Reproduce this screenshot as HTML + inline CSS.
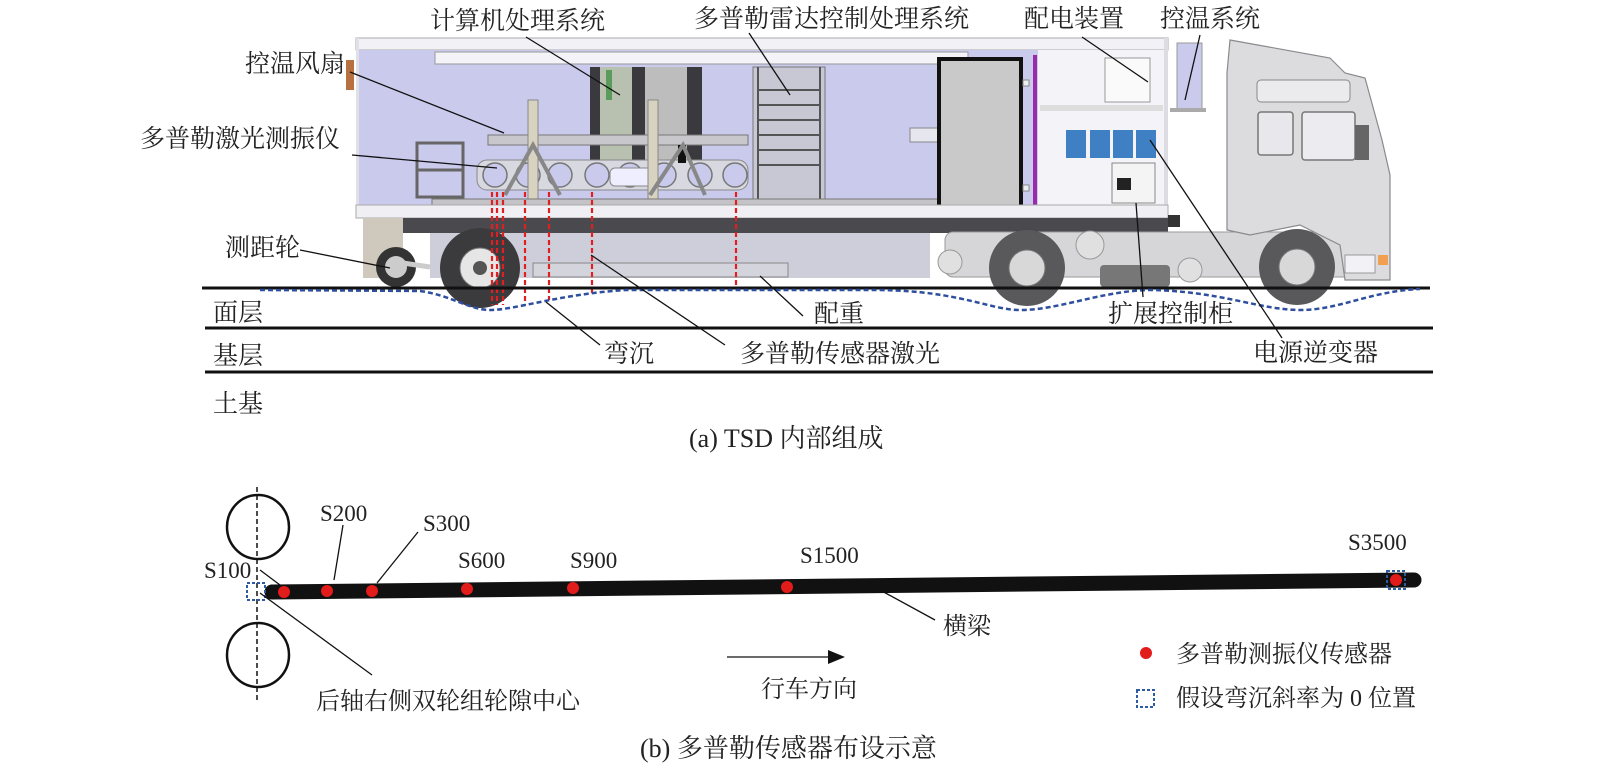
<!DOCTYPE html>
<html><head><meta charset="utf-8"><style>
html,body{margin:0;padding:0;background:#fff;}
svg{display:block;}
text{font-family:"Liberation Serif","Noto Serif CJK SC","Noto Sans CJK SC",serif;fill:#222;}
</style></head><body>
<svg width="1600" height="773" viewBox="0 0 1600 773" xmlns="http://www.w3.org/2000/svg">
<!-- ===== TRAILER ===== -->
<!-- roof -->
<rect x="356" y="38" width="812" height="12" fill="#f2f2f6" stroke="#aaa" stroke-width="1"/>
<!-- interior -->
<rect x="358" y="50" width="600" height="155" fill="#c9caec"/>
<rect x="958" y="50" width="80" height="155" fill="#c9caec"/>
<rect x="1038" y="50" width="128" height="155" fill="#f4f4f8"/>
<rect x="356" y="38" width="3" height="180" fill="#e0e0e6"/>
<rect x="1164" y="38" width="4" height="180" fill="#dcdce2"/>
<!-- top rail -->
<rect x="435" y="52" width="533" height="12" fill="#f4f4f8" stroke="#999" stroke-width="1"/>
<!-- computer racks -->
<rect x="590" y="67" width="112" height="93" fill="#3a3a3e"/>
<rect x="600" y="67" width="32" height="93" fill="#b8c0b0"/>
<rect x="606" y="70" width="6" height="30" fill="#5a9a5a"/>
<rect x="645" y="67" width="42" height="93" fill="#bdbdbd"/>
<!-- grey ladder rack -->
<rect x="753" y="67" width="72" height="133" fill="#c8c8d4" stroke="#777" stroke-width="1"/>
<g stroke="#555" stroke-width="2">
<line x1="758" y1="67" x2="758" y2="200"/><line x1="820" y1="67" x2="820" y2="200"/>
<line x1="758" y1="90" x2="820" y2="90"/><line x1="758" y1="105" x2="820" y2="105"/>
<line x1="758" y1="120" x2="820" y2="120"/><line x1="758" y1="135" x2="820" y2="135"/>
<line x1="758" y1="150" x2="820" y2="150"/><line x1="758" y1="165" x2="820" y2="165"/>
</g>
<!-- shelf near door -->
<rect x="910" y="128" width="48" height="14" fill="#e6e6ee" stroke="#888"/>
<!-- chair -->
<rect x="417" y="143" width="46" height="54" fill="none" stroke="#666" stroke-width="3"/>
<line x1="417" y1="170" x2="463" y2="170" stroke="#666" stroke-width="3"/>
<!-- sensor frame -->
<rect x="477" y="160" width="271" height="30" rx="10" fill="#d8d8e0" stroke="#888"/>
<g fill="#c9caec" stroke="#777" stroke-width="1.5">
<circle cx="495" cy="175" r="12"/><circle cx="528" cy="175" r="12"/><circle cx="560" cy="175" r="12"/>
<circle cx="597" cy="175" r="12"/><circle cx="630" cy="175" r="12"/><circle cx="664" cy="175" r="12"/><circle cx="700" cy="175" r="12"/><circle cx="735" cy="175" r="12"/>
</g>
<rect x="610" y="168" width="45" height="18" rx="5" fill="#eef" stroke="#888"/>
<rect x="488" y="135" width="260" height="10" fill="#c8c8cc" stroke="#777"/>
<rect x="528" y="100" width="10" height="100" fill="#d8d2c0" stroke="#888"/>
<rect x="648" y="100" width="10" height="100" fill="#d8d2c0" stroke="#888"/>
<rect x="678" y="145" width="8" height="18" fill="#111"/>
<path d="M505 195 L533 145 L560 195 M650 195 L683 145 L705 195" stroke="#888" stroke-width="4" fill="none"/>
<rect x="432" y="199" width="516" height="6" fill="#c4c4c8" stroke="#777"/>
<!-- door -->
<rect x="939" y="59" width="82" height="153" fill="#c9c9c9" stroke="#111" stroke-width="4"/>
<rect x="1033" y="55" width="4" height="152" fill="#9a2aa8"/>
<rect x="1023" y="80" width="6" height="6" fill="#eee" stroke="#888"/>
<rect x="1023" y="185" width="6" height="6" fill="#eee" stroke="#888"/>
<!-- right compartment -->
<rect x="1105" y="58" width="45" height="44" fill="#fafafa" stroke="#999"/>
<rect x="1040" y="105" width="123" height="6" fill="#ddd"/>
<rect x="1066" y="130" width="20" height="28" fill="#3f7fc4"/>
<rect x="1090" y="130" width="20" height="28" fill="#3f7fc4"/>
<rect x="1113" y="130" width="20" height="28" fill="#3f7fc4"/>
<rect x="1136" y="130" width="20" height="28" fill="#3f7fc4"/>
<rect x="1112" y="163" width="43" height="40" fill="#f4f4f4" stroke="#888"/>
<rect x="1117" y="178" width="14" height="12" fill="#222"/>
<!-- bottom band -->
<rect x="356" y="205" width="812" height="13" fill="#f0f0f4" stroke="#aaa"/>
<!-- cooling unit -->
<rect x="1177" y="43" width="25" height="68" fill="#c9caec" stroke="#999"/>
<rect x="1170" y="108" width="36" height="4" fill="#aaa"/>
<rect x="346" y="60" width="8" height="30" fill="#b87040"/>
<!-- underside -->
<rect x="363" y="218" width="805" height="15" fill="#4a4a4e"/>
<rect x="430" y="233" width="500" height="45" fill="#c6c6d4" opacity="0.85"/>
<rect x="533" y="263" width="255" height="14" fill="#d4d4dc" stroke="#888"/>
<rect x="363" y="218" width="40" height="60" fill="#cfc8bc"/>
<rect x="1168" y="215" width="12" height="12" fill="#333"/>
<!-- measuring wheel -->
<circle cx="396" cy="267" r="20" fill="#333"/><circle cx="396" cy="267" r="11" fill="#ccc"/>
<line x1="396" y1="262" x2="430" y2="267" stroke="#ccc" stroke-width="5"/>
<!-- rear trailer wheel -->
<circle cx="480" cy="268" r="40" fill="#3b3b3d"/><circle cx="480" cy="268" r="20" fill="#e6e6e6" stroke="#777"/><circle cx="480" cy="268" r="7" fill="#555"/>
<!-- red dashed sensor lines -->
<g stroke="#e02020" stroke-width="2.2" stroke-dasharray="5,3">
<line x1="492" y1="192" x2="492" y2="305"/><line x1="497" y1="192" x2="497" y2="305"/><line x1="503" y1="192" x2="503" y2="305"/>
<line x1="525" y1="192" x2="525" y2="305"/><line x1="549" y1="192" x2="549" y2="300"/><line x1="592" y1="192" x2="592" y2="294"/><line x1="736" y1="192" x2="736" y2="288"/>
</g>
<!-- ===== TRACTOR ===== -->
<rect x="945" y="232" width="440" height="45" rx="8" fill="#d6d6d8" stroke="#999"/>
<circle cx="950" cy="262" r="12" fill="#e0e0e0" stroke="#999"/>
<circle cx="1090" cy="245" r="14" fill="#e0e0e0" stroke="#999"/>
<circle cx="1190" cy="270" r="12" fill="#e0e0e0" stroke="#999"/>
<rect x="1100" y="265" width="70" height="22" rx="4" fill="#777"/>
<path d="M1227 73 L1230 40 L1330 58 L1345 73 L1365 78 L1382 140 L1390 175 L1390 280 L1345 280 L1340 245 L1300 225 L1250 235 L1227 230 Z" fill="#dcdcde" stroke="#8a8a8e" stroke-width="1.2"/>
<rect x="1257" y="80" width="93" height="22" rx="4" fill="#ebebee" stroke="#888"/>
<rect x="1258" y="112" width="35" height="43" rx="3" fill="#e8e8ec" stroke="#777" stroke-width="1.5"/>
<rect x="1302" y="112" width="53" height="48" rx="3" fill="#ececf0" stroke="#777" stroke-width="1.5"/>
<rect x="1355" y="125" width="14" height="35" fill="#666"/>
<rect x="1345" y="255" width="30" height="18" fill="#f2f2f6" stroke="#999"/>
<rect x="1378" y="255" width="10" height="10" fill="#f0a050"/>
<circle cx="1027" cy="268" r="38" fill="#59595c"/><circle cx="1027" cy="268" r="18" fill="#d8d8d8" stroke="#777"/>
<circle cx="1297" cy="267" r="38" fill="#59595c"/><circle cx="1297" cy="267" r="18" fill="#d8d8d8" stroke="#777"/>
<!-- ===== ROAD ===== -->
<line x1="202" y1="288" x2="1430" y2="288" stroke="#111" stroke-width="3"/>
<line x1="205" y1="328" x2="1433" y2="328" stroke="#111" stroke-width="3"/>
<line x1="205" y1="372" x2="1433" y2="372" stroke="#111" stroke-width="3"/>
<path d="M260 290 L420 291 C450 295 470 310 490 310 C515 310 560 294 626 290 L880 290 C960 291 990 310 1020 310 C1060 310 1100 291 1150 290 C1220 291 1260 310 1300 310 C1340 310 1370 291 1420 289" fill="none" stroke="#2d4f9e" stroke-width="2.5" stroke-dasharray="5,3"/>
<!-- ===== LEADERS TOP ===== -->
<g stroke="#111" stroke-width="1.3" fill="none">
<line x1="526" y1="37" x2="620" y2="95"/>
<line x1="749" y1="33" x2="790" y2="95"/>
<line x1="1082" y1="37" x2="1148" y2="82"/>
<line x1="1200" y1="35" x2="1185" y2="100"/>
<line x1="350" y1="72" x2="504" y2="133"/>
<line x1="352" y1="155" x2="497" y2="168"/>
<line x1="300" y1="250" x2="390" y2="268"/>
<line x1="546" y1="302" x2="600" y2="345"/>
<line x1="591" y1="255" x2="725" y2="345"/>
<line x1="760" y1="276" x2="803" y2="316"/>
<line x1="1136" y1="203" x2="1143" y2="297"/>
<line x1="1150" y1="140" x2="1282" y2="338"/>
</g>
<!-- labels top -->
<g font-size="25">
<text x="430" y="29">计算机处理系统</text>
<text x="694" y="27">多普勒雷达控制处理系统</text>
<text x="1024" y="27">配电装置</text>
<text x="1160" y="27">控温系统</text>
<text x="245" y="72">控温风扇</text>
<text x="140" y="147">多普勒激光测振仪</text>
<text x="225" y="256">测距轮</text>
<text x="213" y="321">面层</text>
<text x="213" y="364">基层</text>
<text x="213" y="412">土基</text>
<text x="814" y="322">配重</text>
<text x="1108" y="322">扩展控制柜</text>
<text x="604" y="362">弯沉</text>
<text x="740" y="362">多普勒传感器激光</text>
<text x="1253" y="361">电源逆变器</text>
</g>
<text x="689" y="447" font-size="26">(a) TSD 内部组成</text>
<!-- ===== PART B ===== -->
<ellipse cx="258" cy="527" rx="31" ry="32" fill="none" stroke="#111" stroke-width="2.5"/>
<ellipse cx="258" cy="655" rx="31" ry="32" fill="none" stroke="#111" stroke-width="2.5"/>
<line x1="257" y1="487" x2="257" y2="703" stroke="#111" stroke-width="1.5" stroke-dasharray="5,3"/>
<line x1="272" y1="592" x2="1414" y2="580" stroke="#111" stroke-width="15" stroke-linecap="round"/>
<g fill="#e21b1b">
<circle cx="284" cy="592" r="6"/><circle cx="327" cy="591" r="6"/><circle cx="372" cy="591" r="6"/>
<circle cx="467" cy="589" r="6"/><circle cx="573" cy="588" r="6"/><circle cx="787" cy="587" r="6"/><circle cx="1396" cy="580" r="6"/>
<circle cx="1146" cy="653" r="6"/>
</g>
<g fill="none" stroke="#2d5aa0" stroke-width="2" stroke-dasharray="3,2">
<rect x="247" y="583" width="18" height="17"/>
<rect x="1387" y="571" width="18" height="18"/>
<rect x="1137" y="690" width="17" height="17"/>
</g>
<g stroke="#111" stroke-width="1.3">
<line x1="260" y1="570" x2="280" y2="585"/>
<line x1="343" y1="525" x2="334" y2="580"/>
<line x1="418" y1="532" x2="377" y2="583"/>
<line x1="260" y1="593" x2="372" y2="675"/>
<line x1="880" y1="590" x2="935" y2="620"/>
<line x1="727" y1="657" x2="830" y2="657"/>
</g>
<polygon points="845,657 828,650 828,664" fill="#111"/>
<g font-size="23">
<text x="204" y="578">S100</text>
<text x="320" y="521">S200</text>
<text x="423" y="531">S300</text>
<text x="458" y="568">S600</text>
<text x="570" y="568">S900</text>
<text x="800" y="563">S1500</text>
<text x="1348" y="550">S3500</text>
</g>
<g font-size="24">
<text x="943" y="634">横梁</text>
<text x="761" y="697">行车方向</text>
<text x="316" y="709">后轴右侧双轮组轮隙中心</text>
<text x="1176" y="662">多普勒测振仪传感器</text>
<text x="1176" y="706">假设弯沉斜率为 0 位置</text>
</g>
<text x="640" y="757" font-size="26">(b) 多普勒传感器布设示意</text>
</svg>
</body></html>
